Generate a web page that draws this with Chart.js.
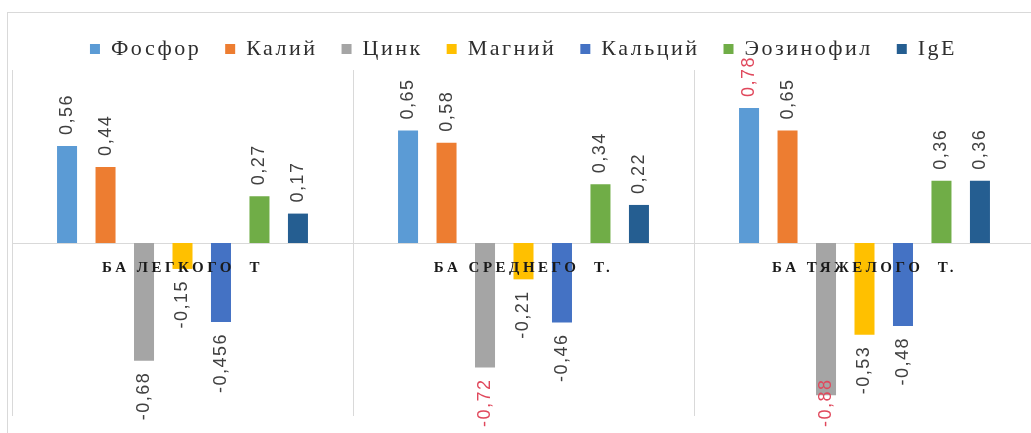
<!DOCTYPE html>
<html>
<head>
<meta charset="utf-8">
<script src="https://cdn.jsdelivr.net/npm/chart.js@4"></script>
<style>
  html, body { margin: 0; padding: 0; background: #fff; overflow: hidden; width: 1031px; height: 433px; }
  #frame { position: absolute; left: 7px; top: 12px; width: 1100px; height: 500px;
           border-top: 1px solid #d9d9d9; border-left: 1px solid #d9d9d9; box-sizing: border-box; }
  #wrap { position: absolute; left: 0; top: 0; width: 1040px; height: 433px; }
</style>
</head>
<body>
<div id="frame"></div>
<div id="wrap"><canvas id="c"></canvas></div>
<script>
// ---- data ----
const categories = ['БА ЛЕГКОГО  Т', 'БА СРЕДНЕГО  Т.', 'БА ТЯЖЕЛОГО  Т.'];
const seriesNames = ['Фосфор', 'Калий', 'Цинк', 'Магний', 'Кальций', 'Эозинофил', 'IgE'];
const fosfor    = [0.56, 0.65, 0.78];
const kaliy     = [0.44, 0.58, 0.65];
const tsink     = [-0.68, -0.72, -0.88];
const magniy    = [-0.15, -0.21, -0.53];
const kaltsiy   = [-0.456, -0.46, -0.48];
const eozinofil = [0.27, 0.34, 0.36];
const ige       = [0.17, 0.22, 0.36];
const seriesColors = ['#5B9BD5', '#ED7D31', '#A5A5A5', '#FFC000', '#4472C4', '#70AD47', '#255E91'];
// labels shown in red: [seriesIndex, categoryIndex]
const redLabels = [[0, 2], [2, 1], [2, 2]];
const yTicks = { min: -1, max: 1 };

const seriesValues = [fosfor, kaliy, tsink, magniy, kaltsiy, eozinofil, ige];

const datasets = seriesNames.map((name, i) => ({
  label: name,
  data: seriesValues[i],
  backgroundColor: seriesColors[i],
  borderWidth: 0,
  categoryPercentage: 0.79,
  barPercentage: 0.52
}));

const spacingPlugin = {
  id: 'spacing',
  beforeLayout(chart) { chart.ctx.letterSpacing = '2.5px'; },
  beforeDraw(chart) { chart.ctx.letterSpacing = '2.5px'; },
  beforeDatasetsDraw(chart) { chart.ctx.letterSpacing = '0px'; }
};

const labelPlugin = {
  id: 'valueLabels',
  afterDatasetsDraw(chart) {
    const ctx = chart.ctx;
    ctx.save();
    ctx.letterSpacing = '1.5px';
    ctx.font = '18px "Liberation Sans", Arial, sans-serif';
    ctx.textBaseline = 'middle';
    const offset = 11;
    const H = chart.height;
    chart.data.datasets.forEach((ds, di) => {
      const meta = chart.getDatasetMeta(di);
      meta.data.forEach((bar, ci) => {
        const v = ds.data[ci];
        const txt = String(v).replace('.', ',');
        const isRed = redLabels.some(p => p[0] === di && p[1] === ci);
        ctx.fillStyle = isRed ? '#e0485c' : '#404040';
        const w = ctx.measureText(txt).width;
        ctx.save();
        if (v >= 0) {
          ctx.translate(bar.x, bar.y - offset);
          ctx.rotate(-Math.PI / 2);
          ctx.textAlign = 'left';
          ctx.fillText(txt, 0, 0);
        } else {
          let end = bar.y + offset + w;
          if (end > H - 6) end = H - 6;
          ctx.translate(bar.x, end);
          ctx.rotate(-Math.PI / 2);
          ctx.textAlign = 'left';
          ctx.fillText(txt, 0, 0);
        }
        ctx.restore();
      });
    });
    // category labels just below zero line
    const xs = chart.scales.x, ys = chart.scales.y;
    ctx.font = 'bold 15px "Liberation Serif", "Times New Roman", serif';
    ctx.letterSpacing = '3.5px';
    ctx.fillStyle = '#1a1a1a';
    ctx.textAlign = 'center';
    ctx.textBaseline = 'middle';
    const y0 = ys.getPixelForValue(0);
    categories.forEach((c, i) => {
      ctx.fillText(c, xs.getPixelForValue(i), y0 + 25);
    });
    ctx.restore();
  }
};

new Chart(document.getElementById('c'), {
  type: 'bar',
  data: { labels: categories, datasets },
  options: {
    responsive: true,
    maintainAspectRatio: false,
    animation: false,
    layout: { padding: { left: 12, right: 5, top: 14, bottom: 17 } },
    plugins: {
      legend: {
        position: 'top',
        labels: {
          boxWidth: 10, boxHeight: 10,
          padding: 24,
          color: '#2e2e2e',
          font: { family: '"Liberation Serif", "Times New Roman", serif', size: 22 }
        }
      },
      tooltip: { enabled: false }
    },
    scales: {
      x: {
        position: { y: 0 },
        grid: { display: true, offset: true, color: '#d9d9d9', drawTicks: false },
        border: { display: true, color: '#d9d9d9' },
        ticks: { display: false }
      },
      y: {
        display: false,
        min: yTicks.min, max: yTicks.max
      }
    }
  },
  plugins: [spacingPlugin, labelPlugin]
});
</script>
</body>
</html>
